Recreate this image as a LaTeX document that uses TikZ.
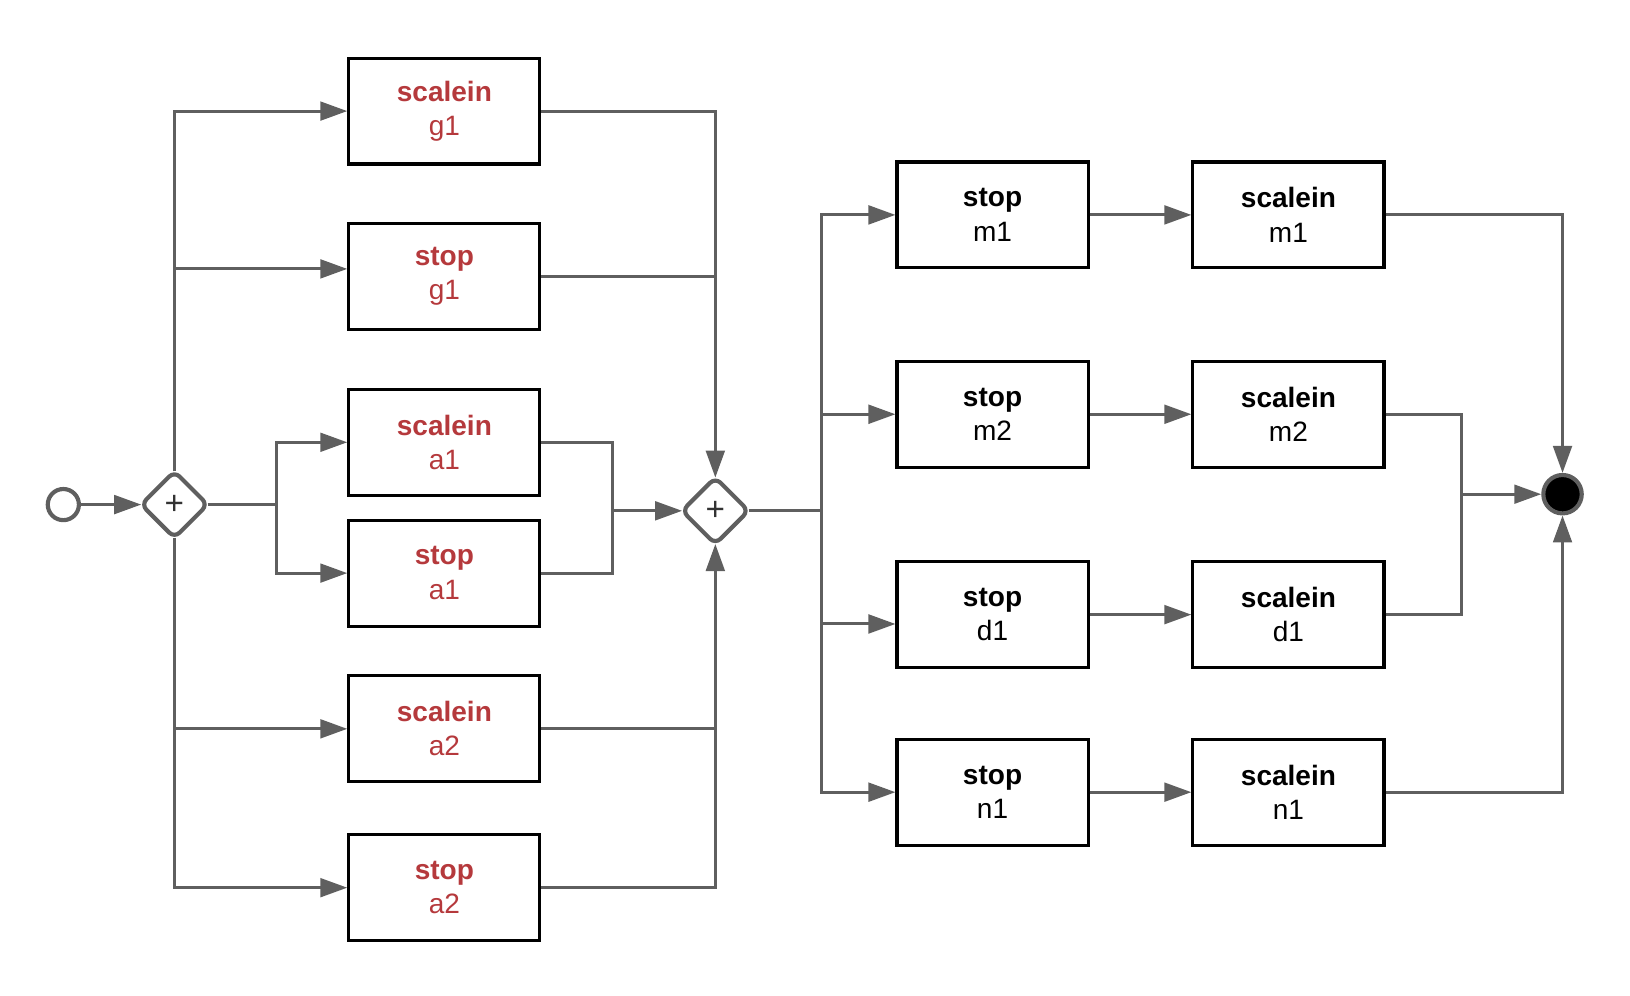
\documentclass[tikz,border=0pt]{standalone}
\usepackage{fontspec}
\setmainfont{Liberation Sans}
\usetikzlibrary{arrows.meta,shapes.geometric}
\definecolor{linegray}{HTML}{5F5F5F}
\definecolor{taskred}{HTML}{B5393C}
\begin{document}
\begin{tikzpicture}[x=1pt,y=-1pt,
  task/.style={draw=black,line width=3pt,minimum width=184pt,minimum height=102pt,inner sep=0pt,align=center,font=\fontsize{27}{33}\selectfont},
  redtask/.style={task,text=taskred},
  conn/.style={draw=linegray,line width=2.9pt,-{Triangle[length=26pt,width=18pt]}},
  link/.style={draw=linegray,line width=2.9pt},
  gateway/.style={diamond,draw=linegray,line width=4pt,minimum width=64pt,minimum height=64pt,inner sep=0pt,rounded corners=7pt,outer sep=0pt,fill=white,text=black!80,font=\fontsize{32}{32}\selectfont},
  startev/.style={circle,draw=linegray,line width=4pt,minimum size=30pt,inner sep=0pt,fill=white},
  endev/.style={circle,draw=linegray,line width=4pt,minimum size=37pt,inner sep=0pt,fill=black}
]
\useasboundingbox (0,0) rectangle (1570,959);

% events and gateways
\node[startev] (start) at (61,486) {};
\node[gateway] (gw1) at (168,486) {\raisebox{-3pt}{+}};
\node[gateway] (gw2) at (689,492) {\raisebox{-3pt}{+}};
\node[endev] (end) at (1505,476) {};

% left tasks
\node[redtask] (sg1)  at (428,107) {\textbf{scalein}\\g1};
\node[redtask] (stg1) at (428,266) {\textbf{stop}\\g1};
\node[redtask] (sa1)  at (428,426) {\textbf{scalein}\\a1};
\node[redtask] (sta1) at (428,552) {\textbf{stop}\\a1};
\node[redtask] (sa2)  at (428,702) {\textbf{scalein}\\a2};
\node[redtask] (sta2) at (428,855) {\textbf{stop}\\a2};

% right tasks
\node[task] (stm1) at (956,207) {\textbf{stop}\\m1};
\node[task] (stm2) at (956,399) {\textbf{stop}\\m2};
\node[task] (std1) at (956,592) {\textbf{stop}\\d1};
\node[task] (stn1) at (956,763) {\textbf{stop}\\n1};
\node[task] (scm1) at (1241,207) {\textbf{scalein}\\m1};
\node[task] (scm2) at (1241,399) {\textbf{scalein}\\m2};
\node[task] (scd1) at (1241,592) {\textbf{scalein}\\d1};
\node[task] (scn1) at (1241,763) {\textbf{scalein}\\n1};

% junctions
\coordinate (j1) at (266,486);
\coordinate (j2) at (590,492);
\coordinate (j3) at (791,492);
\coordinate (j4) at (1408,476);

% connectors
\draw[conn] (start) -- (gw1);
\draw[conn] (gw1.north) |- (sg1.west);
\draw[conn] (gw1.north) |- ([yshift=7pt]stg1.west);
\draw[link] (gw1.east) -- (j1);
\draw[conn] (j1) |- (sa1.west);
\draw[conn] (j1) |- (sta1.west);
\draw[conn] (gw1.south) |- (sa2.west);
\draw[conn] (gw1.south) |- (sta2.west);

\draw[conn] (sg1.east) -| (gw2.north);
\draw[link] (stg1.east) -- (stg1.east -| gw2.north);
\draw[link] (sa1.east) -| (j2);
\draw[link] (sta1.east) -| (j2);
\draw[conn] (j2) -- (gw2.west);
\draw[link] (sa2.east) -- (sa2.east -| gw2.south);
\draw[conn] (sta2.east) -| (gw2.south);

\draw[link] (gw2.east) -- (j3);
\draw[conn] (j3) |- (stm1.west);
\draw[conn] (j3) |- (stm2.west);
\draw[conn] (j3) |- ([yshift=-9pt]std1.west);
\draw[conn] (j3) |- (stn1.west);

\draw[conn] (stm1) -- (scm1);
\draw[conn] (stm2) -- (scm2);
\draw[conn] (std1) -- (scd1);
\draw[conn] (stn1) -- (scn1);

\draw[conn] (scm1.east) -| (end.north);
\draw[conn] (scn1.east) -| (end.south);
\draw[link] (scm2.east) -| (j4);
\draw[link] (scd1.east) -| (j4);
\draw[conn] (j4) -- (end.west);
\end{tikzpicture}
\end{document}
